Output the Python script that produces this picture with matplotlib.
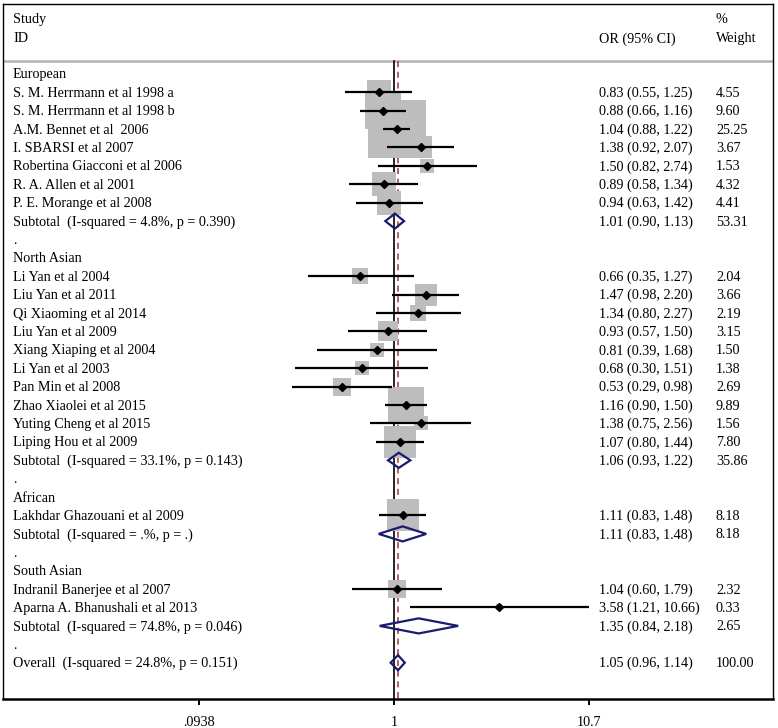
import numpy as np
import matplotlib.pyplot as plt
from matplotlib.patches import Polygon
from matplotlib.ticker import NullLocator

plt.rcParams['font.family'] = ['Liberation Serif', 'DejaVu Serif']

# rows of the forest plot, top to bottom
row_labels = [
    "European",
    "S. M. Herrmann et al 1998 a",
    "S. M. Herrmann et al 1998 b",
    "A.M. Bennet et al  2006",
    "I. SBARSI et al 2007",
    "Robertina Giacconi et al 2006",
    "R. A. Allen et al 2001",
    "P. E. Morange et al 2008",
    "Subtotal  (I-squared = 4.8%, p = 0.390)",
    ".",
    "North Asian",
    "Li Yan et al 2004",
    "Liu Yan et al 2011",
    "Qi Xiaoming et al 2014",
    "Liu Yan et al 2009",
    "Xiang Xiaping et al 2004",
    "Li Yan et al 2003",
    "Pan Min et al 2008",
    "Zhao Xiaolei et al 2015",
    "Yuting Cheng et al 2015",
    "Liping Hou et al 2009",
    "Subtotal  (I-squared = 33.1%, p = 0.143)",
    ".",
    "African",
    "Lakhdar Ghazouani et al 2009",
    "Subtotal  (I-squared = .%, p = .)",
    ".",
    "South Asian",
    "Indranil Banerjee et al 2007",
    "Aparna A. Bhanushali et al 2013",
    "Subtotal  (I-squared = 74.8%, p = 0.046)",
    ".",
    "Overall  (I-squared = 24.8%, p = 0.151)",
]
row_kind = ["head"] + ["study"] * 7 + ["sub", "dot", "head"] + ["study"] * 10 + \
           ["sub", "dot", "head", "study", "sub", "dot", "head", "study", "study", "sub", "dot", "sub"]

nan = np.nan
odds_ratio = [nan, 0.83, 0.88, 1.04, 1.38, 1.50, 0.89, 0.94, 1.01, nan,
              nan, 0.66, 1.47, 1.34, 0.93, 0.81, 0.68, 0.53, 1.16, 1.38, 1.07, 1.06, nan,
              nan, 1.11, 1.11, nan,
              nan, 1.04, 3.58, 1.35, nan, 1.05]
ci_low = [nan, 0.55, 0.66, 0.88, 0.92, 0.82, 0.58, 0.63, 0.90, nan,
          nan, 0.35, 0.98, 0.80, 0.57, 0.39, 0.30, 0.29, 0.90, 0.75, 0.80, 0.93, nan,
          nan, 0.83, 0.83, nan,
          nan, 0.60, 1.21, 0.84, nan, 0.96]
ci_high = [nan, 1.25, 1.16, 1.22, 2.07, 2.74, 1.34, 1.42, 1.13, nan,
           nan, 1.27, 2.20, 2.27, 1.50, 1.68, 1.51, 0.98, 1.50, 2.56, 1.44, 1.22, nan,
           nan, 1.48, 1.48, nan,
           nan, 1.79, 10.66, 2.18, nan, 1.14]
weight = [nan, 4.55, 9.60, 25.25, 3.67, 1.53, 4.32, 4.41, 53.31, nan,
          nan, 2.04, 3.66, 2.19, 3.15, 1.50, 1.38, 2.69, 9.89, 1.56, 7.80, 35.86, nan,
          nan, 8.18, 8.18, nan,
          nan, 2.32, 0.33, 2.65, nan, 100.00]

overall_or = 1.05
tick_vals = [0.0938, 1, 10.7]
tick_text = [".0938", "1", "10.7"]

W, H = 778, 728
left_px, right_px, top_px, bottom_px = 3, 773, 4, 699
fig = plt.figure(figsize=(W / 100, H / 100), dpi=100)
ax = fig.add_axes([left_px / W, (H - bottom_px) / H, (right_px - left_px) / W,
                   (bottom_px - top_px) / H])

# x: log scale, 1 at pixel 394, ~82.3 px per ln unit
ppl = 82.3
ax.set_xscale('log')
ax.set_xlim(np.exp((left_px - 394) / ppl), np.exp((right_px - 394) / ppl))
# y: rows, 18.4 px each, row 0 at pixel 73.9
rh = 18.4
y0 = 73.9
ax.set_ylim((bottom_px - y0) / rh, (top_px - y0) / rh)

top_row = (61 - y0) / rh
bottom_row = (bottom_px - y0) / rh

# header separator and reference lines
ax.axhline(top_row, color='#b4b4b4', lw=1.8, zorder=1)
ax.plot([1, 1], [top_row, bottom_row], color='black', lw=1.2, zorder=2)
ax.plot([overall_or, overall_or], [top_row, bottom_row], color='#a8323e', lw=1.1,
        ls=(0, (4, 3)), zorder=2)

px2pt = 0.72
for i, kind in enumerate(row_kind):
    est, lo, hi = odds_ratio[i], ci_low[i], ci_high[i]
    if kind == "study":
        side = 11.45 * np.sqrt(weight[i]) * px2pt
        ax.scatter([est], [i], marker='s', s=side ** 2, color='#bdbdbd',
                   linewidths=0, zorder=3)
        ax.plot([lo, hi], [i, i], color='black', lw=1.6, zorder=4, solid_capstyle='butt')
        ax.plot([est], [i], marker='D', color='black', ms=4.2, zorder=5)
    elif kind == "sub":
        h = 0.41
        ax.add_patch(Polygon([(lo, i), (est, i - h), (hi, i), (est, i + h)], closed=True,
                             fill=False, edgecolor='#1a1a6e', lw=1.6, zorder=5))

# text columns
tr = ax.get_yaxis_transform()
span = right_px - left_px
col_label = (13 - left_px) / span
col_or = (599 - left_px) / span
col_w = (716 - left_px) / span
fs = 10.2
ax.text(col_label, (20 - y0) / rh, "Study", transform=tr, fontsize=fs, va='center')
ax.text(col_label, (39 - y0) / rh, "ID", transform=tr, fontsize=fs, va='center')
ax.text(col_or, (39 - y0) / rh, "OR (95% CI)", transform=tr, fontsize=fs, va='center')
ax.text(col_w, (20 - y0) / rh, "%", transform=tr, fontsize=fs, va='center')
ax.text(col_w, (39 - y0) / rh, "Weight", transform=tr, fontsize=fs, va='center')

for i, lab in enumerate(row_labels):
    ax.text(col_label, i + 0.05, lab, transform=tr, fontsize=fs, va='center')
    if not np.isnan(odds_ratio[i]):
        ax.text(col_or, i + 0.05, "%.2f (%.2f, %.2f)" % (odds_ratio[i], ci_low[i], ci_high[i]),
                transform=tr, fontsize=fs, va='center')
        ax.text(col_w, i + 0.05, "%.2f" % weight[i], transform=tr, fontsize=fs, va='center')

ax.set_xticks(tick_vals)
ax.set_xticklabels(tick_text, fontsize=fs)
ax.xaxis.set_minor_locator(NullLocator())
ax.set_yticks([])
ax.tick_params(axis='x', length=4.5, width=1.4, pad=8)
for side in ['left', 'right', 'top']:
    ax.spines[side].set_linewidth(1.0)
ax.spines['bottom'].set_linewidth(1.8)

fig.savefig('out.png', dpi=100)
